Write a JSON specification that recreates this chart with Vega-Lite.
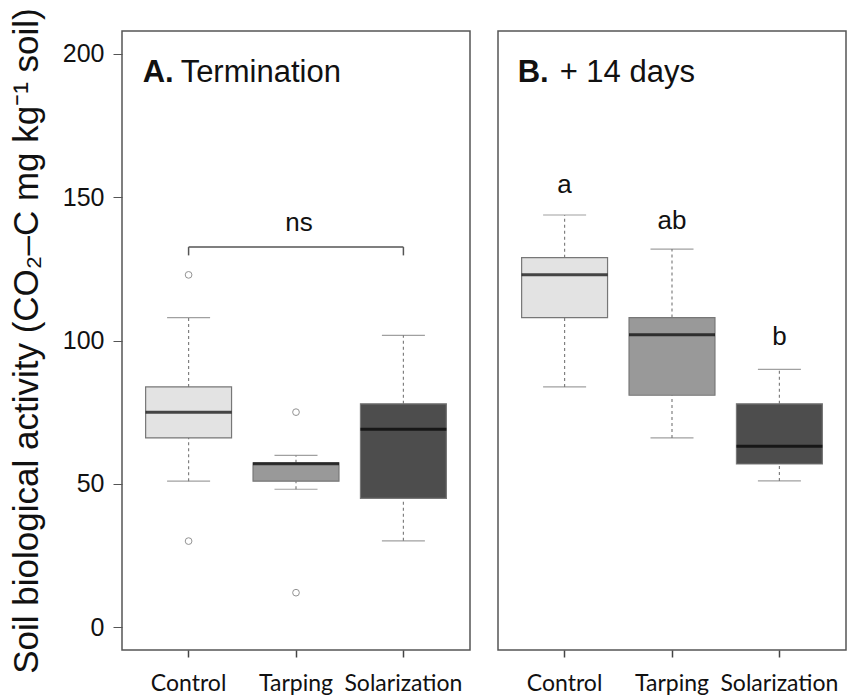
{
  "$schema": "https://vega.github.io/schema/vega-lite/v6.json",
  "background": "white",
  "padding": {"left": 8, "top": 7, "right": 2, "bottom": 0},
  "spacing": 26,
  "config": {
    "view": {"stroke": "#555555", "strokeWidth": 1.5},
    "font": "Liberation Sans"
  },
  "datasets": {
    "boxes": [
      {"panel": "A", "group": "Control", "min": 50.9, "q1": 66.0, "median": 75.0, "q3": 83.8, "max": 108.0},
      {"panel": "A", "group": "Tarping", "min": 48.1, "q1": 50.9, "median": 57.0, "q3": 57.3, "max": 59.9},
      {"panel": "A", "group": "Solarization", "min": 30.1, "q1": 44.9, "median": 69.0, "q3": 77.9, "max": 101.8},
      {"panel": "B", "group": "Control", "min": 83.8, "q1": 108.0, "median": 122.9, "q3": 128.9, "max": 143.8},
      {"panel": "B", "group": "Tarping", "min": 66.0, "q1": 80.9, "median": 102.0, "q3": 108.0, "max": 131.9},
      {"panel": "B", "group": "Solarization", "min": 51.0, "q1": 56.9, "median": 63.1, "q3": 77.9, "max": 89.9}
    ],
    "outliers": [
      {"panel": "A", "group": "Control", "value": 122.9},
      {"panel": "A", "group": "Control", "value": 30.0},
      {"panel": "A", "group": "Tarping", "value": 75.0},
      {"panel": "A", "group": "Tarping", "value": 12.0}
    ],
    "letters": [
      {"panel": "A", "group": "Tarping", "label": "ns", "value": 138.3},
      {"panel": "B", "group": "Control", "label": "a", "value": 151.6},
      {"panel": "B", "group": "Tarping", "label": "ab", "value": 138.8},
      {"panel": "B", "group": "Solarization", "label": "b", "value": 98.3}
    ],
    "brackets": [
      {"panel": "A", "from": "Control", "to": "Solarization", "top": 132.6, "bottom": 129.7}
    ],
    "titles": [
      {"panel": "A", "group": "Control", "letter": "A.", "text": "Termination", "value": 190.1},
      {"panel": "B", "group": "Control", "letter": "B.", "text": "+ 14 days", "value": 190.1}
    ]
  },
  "hconcat": [
    {
      "width": 348,
      "height": 619,
      "layer": [
        {
          "data": {"name": "boxes"},
          "transform": [{"filter": "datum.panel === 'A'"}],
          "layer": [
            {"mark": {"type": "rule", "color": "#808080", "strokeDash": [3, 3], "strokeWidth": 1.2},
             "encoding": {"y": {"field": "min", "type": "quantitative"}, "y2": {"field": "q1"}}},
            {"mark": {"type": "rule", "color": "#808080", "strokeDash": [3, 3], "strokeWidth": 1.2},
             "encoding": {"y": {"field": "q3", "type": "quantitative"}, "y2": {"field": "max"}}},
            {"mark": {"type": "bar", "stroke": "#777777", "strokeWidth": 1.2},
             "encoding": {
               "y": {"field": "q1", "type": "quantitative"}, "y2": {"field": "q3"},
               "fill": {"field": "group", "type": "nominal", "scale": {"domain": ["Control", "Tarping", "Solarization"], "range": ["#e3e3e3", "#999999", "#4d4d4d"]}, "legend": null}
             }},
            {"mark": {"type": "tick", "color": "#000000", "thickness": 3, "size": 86},
             "encoding": {"y": {"field": "median", "type": "quantitative"}}},
            {"mark": {"type": "tick", "color": "#777777", "thickness": 1.2, "size": 43},
             "encoding": {"y": {"field": "min", "type": "quantitative"}}},
            {"mark": {"type": "tick", "color": "#777777", "thickness": 1.2, "size": 43},
             "encoding": {"y": {"field": "max", "type": "quantitative"}}}
          ]
        },
        {
          "data": {"name": "outliers"},
          "transform": [{"filter": "datum.panel === 'A'"}],
          "mark": {"type": "point", "shape": "circle", "filled": false, "color": "#666666", "size": 45, "strokeWidth": 1},
          "encoding": {"y": {"field": "value", "type": "quantitative"}}
        },
        {
          "data": {"name": "brackets"},
          "transform": [{"filter": "datum.panel === 'A'"}],
          "layer": [
            {"mark": {"type": "rule", "color": "#555555", "strokeWidth": 1.5},
             "encoding": {"x": {"field": "from"}, "x2": {"field": "to"}, "y": {"field": "top", "type": "quantitative"}}},
            {"mark": {"type": "rule", "color": "#555555", "strokeWidth": 1.5},
             "encoding": {"x": {"field": "from"}, "y": {"field": "bottom", "type": "quantitative"}, "y2": {"field": "top"}}},
            {"mark": {"type": "rule", "color": "#555555", "strokeWidth": 1.5},
             "encoding": {"x": {"field": "to"}, "y": {"field": "bottom", "type": "quantitative"}, "y2": {"field": "top"}}}
          ]
        },
        {
          "data": {"name": "letters"},
          "transform": [{"filter": "datum.panel === 'A'"}],
          "mark": {"type": "text", "fontSize": 26, "color": "#111111", "baseline": "alphabetic", "dx": 3},
          "encoding": {"y": {"field": "value", "type": "quantitative"}, "text": {"field": "label"}}
        },
        {
          "data": {"name": "titles"},
          "transform": [{"filter": "datum.panel === 'A'"}],
          "layer": [
            {"mark": {"type": "text", "fontSize": 31, "fontWeight": "bold", "color": "#111111", "align": "left", "baseline": "alphabetic", "dx": -3},
             "encoding": {"x": {"field": "group", "bandPosition": 0}, "y": {"field": "value", "type": "quantitative"}, "text": {"field": "letter"}}},
            {"mark": {"type": "text", "fontSize": 31, "color": "#111111", "align": "left", "baseline": "alphabetic", "dx": 35},
             "encoding": {"x": {"field": "group", "bandPosition": 0}, "y": {"field": "value", "type": "quantitative"}, "text": {"field": "text"}}}
          ]
        }
      ],
      "encoding": {
        "x": {"field": "group", "type": "nominal", "sort": ["Control", "Tarping", "Solarization"],
              "scale": {"domain": ["Control", "Tarping", "Solarization"], "paddingInner": 0.2, "paddingOuter": 0.22},
              "axis": {"title": null, "labelAngle": 0, "domain": false, "tickColor": "#444444", "tickSize": 7, "tickWidth": 1.5,
                       "labelFont": "Lato", "labelFontSize": 23, "labelColor": "#111111", "labelPadding": 15}},
        "y": {"type": "quantitative",
              "scale": {"domain": [-8, 208], "nice": false, "zero": false},
              "axis": {"title": "Soil biological activity (CO₂–C mg kg⁻¹ soil)", "titleFontSize": 35, "titleFontWeight": "normal", "titleColor": "#111111", "titlePadding": 18,
                       "values": [0, 50, 100, 150, 200], "grid": false, "domain": false, "tickColor": "#555555", "tickSize": 9, "tickWidth": 1,
                       "labelFontSize": 25, "labelColor": "#111111", "labelPadding": 9}}
      }
    },
    {
      "width": 348,
      "height": 619,
      "layer": [
        {
          "data": {"name": "boxes"},
          "transform": [{"filter": "datum.panel === 'B'"}],
          "layer": [
            {"mark": {"type": "rule", "color": "#808080", "strokeDash": [3, 3], "strokeWidth": 1.2},
             "encoding": {"y": {"field": "min", "type": "quantitative"}, "y2": {"field": "q1"}}},
            {"mark": {"type": "rule", "color": "#808080", "strokeDash": [3, 3], "strokeWidth": 1.2},
             "encoding": {"y": {"field": "q3", "type": "quantitative"}, "y2": {"field": "max"}}},
            {"mark": {"type": "bar", "stroke": "#777777", "strokeWidth": 1.2},
             "encoding": {
               "y": {"field": "q1", "type": "quantitative"}, "y2": {"field": "q3"},
               "fill": {"field": "group", "type": "nominal", "scale": {"domain": ["Control", "Tarping", "Solarization"], "range": ["#e3e3e3", "#999999", "#4d4d4d"]}, "legend": null}
             }},
            {"mark": {"type": "tick", "color": "#000000", "thickness": 3, "size": 86},
             "encoding": {"y": {"field": "median", "type": "quantitative"}}},
            {"mark": {"type": "tick", "color": "#777777", "thickness": 1.2, "size": 43},
             "encoding": {"y": {"field": "min", "type": "quantitative"}}},
            {"mark": {"type": "tick", "color": "#777777", "thickness": 1.2, "size": 43},
             "encoding": {"y": {"field": "max", "type": "quantitative"}}}
          ]
        },
        {
          "data": {"name": "letters"},
          "transform": [{"filter": "datum.panel === 'B'"}],
          "mark": {"type": "text", "fontSize": 26, "color": "#111111", "baseline": "alphabetic"},
          "encoding": {"y": {"field": "value", "type": "quantitative"}, "text": {"field": "label"}}
        },
        {
          "data": {"name": "titles"},
          "transform": [{"filter": "datum.panel === 'B'"}],
          "layer": [
            {"mark": {"type": "text", "fontSize": 31, "fontWeight": "bold", "color": "#111111", "align": "left", "baseline": "alphabetic", "dx": -4},
             "encoding": {"x": {"field": "group", "bandPosition": 0}, "y": {"field": "value", "type": "quantitative"}, "text": {"field": "letter"}}},
            {"mark": {"type": "text", "fontSize": 31, "color": "#111111", "align": "left", "baseline": "alphabetic", "dx": 38},
             "encoding": {"x": {"field": "group", "bandPosition": 0}, "y": {"field": "value", "type": "quantitative"}, "text": {"field": "text"}}}
          ]
        }
      ],
      "encoding": {
        "x": {"field": "group", "type": "nominal", "sort": ["Control", "Tarping", "Solarization"],
              "scale": {"domain": ["Control", "Tarping", "Solarization"], "paddingInner": 0.2, "paddingOuter": 0.22},
              "axis": {"title": null, "labelAngle": 0, "domain": false, "tickColor": "#444444", "tickSize": 7, "tickWidth": 1.5,
                       "labelFont": "Lato", "labelFontSize": 23, "labelColor": "#111111", "labelPadding": 15}},
        "y": {"type": "quantitative",
              "scale": {"domain": [-8, 208], "nice": false, "zero": false},
              "axis": null}
      }
    }
  ]
}
